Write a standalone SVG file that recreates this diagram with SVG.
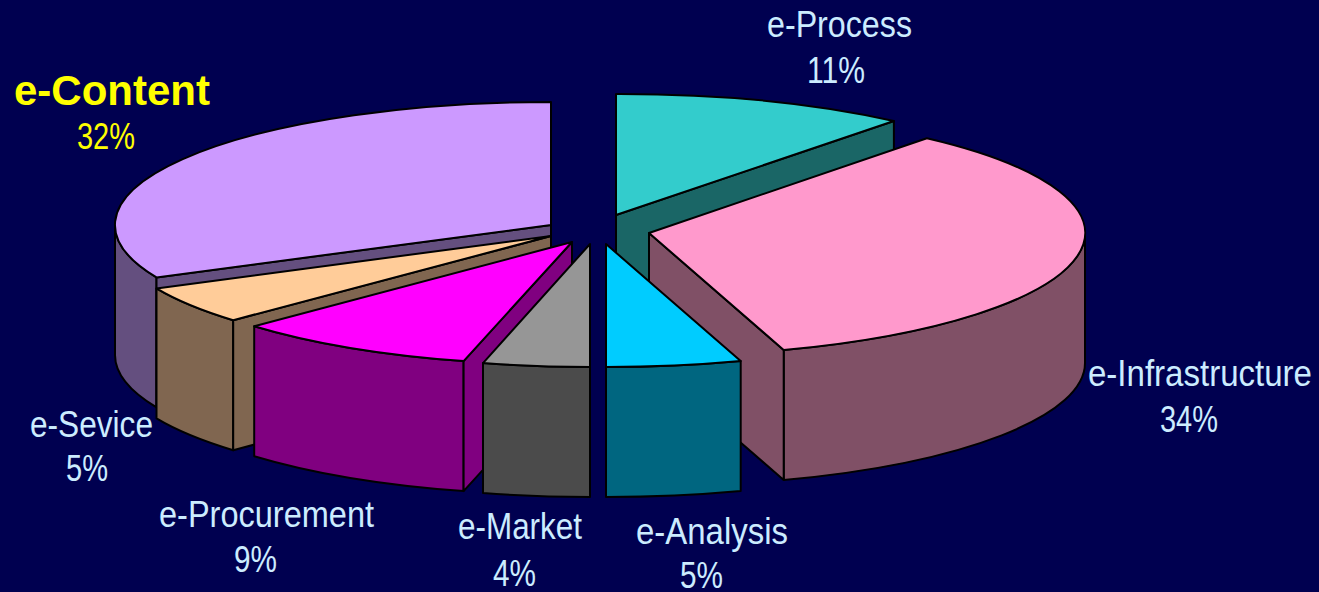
<svg xmlns="http://www.w3.org/2000/svg" width="1319" height="592" viewBox="0 0 1319 592">
<style>
.e{stroke:#000;stroke-width:2;stroke-linejoin:round}
.lbl{font-family:"Liberation Sans Narrow","Liberation Sans",Arial,sans-serif;font-size:36px;fill:#CCECFF}
.hl{font-family:"Liberation Sans",Arial,sans-serif;font-weight:bold;font-size:42px;fill:#FFFF00}
.hp{font-family:"Liberation Sans Narrow","Liberation Sans",Arial,sans-serif;font-size:36px;fill:#FFFF00}
</style>
<rect width="1319" height="592" fill="#000050"/>
<g id="slice-e-Process">
<path class="e" fill="#1A6666" d="M616,215 L893.9,121 L893.9,251 L616,345 Z"/>
<path class="e" fill="#33CCCC" d="M616,215 L616,94 A436,121 0 0,1 893.9,121 Z"/>
</g>
<g id="slice-e-Content">
<path class="e" fill="#644F7F" d="M115,225 A436,123 0 0,0 156.5,277.4 L156.5,407.4 A436,123 0 0,1 115,355 Z"/>
<path class="e" fill="#644F7F" d="M156.5,277.4 L551,225 L551,355 L156.5,407.4 Z"/>
<path class="e" fill="#CC99FF" d="M551,225 L551,102 A436,123 0 0,0 156.5,277.4 Z"/>
</g>
<g id="slice-e-Infrastructure">
<path class="e" fill="#805066" d="M1085,233 A436,123 0 0,1 783.7,350 L783.7,480 A436,123 0 0,0 1085,363 Z"/>
<path class="e" fill="#805066" d="M649,233 L783.7,350 L783.7,480 L649,363 Z"/>
<path class="e" fill="#FF99CC" d="M649,233 L926.9,138.2 A436,123 0 0,1 783.7,350 Z"/>
</g>
<g id="slice-e-Sevice">
<path class="e" fill="#806650" d="M156.5,288.4 A436,123 0 0,0 233.2,320.2 L233.2,450.2 A436,123 0 0,1 156.5,418.4 Z"/>
<path class="e" fill="#806650" d="M233.2,320.2 L551,236 L551,366 L233.2,450.2 Z"/>
<path class="e" fill="#FFCC99" d="M551,236 L156.5,288.4 A436,123 0 0,0 233.2,320.2 Z"/>
</g>
<g id="slice-e-Procurement">
<path class="e" fill="#800080" d="M254.2,326.2 A436,123 0 0,0 463.6,361.1 L463.6,491.1 A436,123 0 0,1 254.2,456.2 Z"/>
<path class="e" fill="#800080" d="M463.6,361.1 L572,242 L572,372 L463.6,491.1 Z"/>
<path class="e" fill="#FF00FF" d="M572,242 L254.2,326.2 A436,123 0 0,0 463.6,361.1 Z"/>
</g>
<g id="slice-e-Market">
<path class="e" fill="#4B4B4B" d="M483,363.1 A436,123 0 0,0 590,367 L590,497 A436,123 0 0,1 483,493.1 Z"/>
<path class="e" fill="#969696" d="M590,244 L483,363.1 A436,123 0 0,0 590,367 Z"/>
</g>
<g id="slice-e-Analysis">
<path class="e" fill="#006680" d="M606,367 A436,123 0 0,0 740.7,361 L740.7,491 A436,123 0 0,1 606,497 Z"/>
<path class="e" fill="#00CCFF" d="M606,244 L606,367 A436,123 0 0,0 740.7,361 Z"/>
</g>
<g id="labels">
<text class="lbl" x="767" y="37" textLength="145" lengthAdjust="spacingAndGlyphs">e-Process</text>
<text class="lbl" x="807" y="83" textLength="58" lengthAdjust="spacingAndGlyphs">11%</text>
<text class="hl" x="14" y="105" textLength="196" lengthAdjust="spacingAndGlyphs">e-Content</text>
<text class="hp" x="77" y="149" textLength="58" lengthAdjust="spacingAndGlyphs">32%</text>
<text class="lbl" x="1088" y="386" textLength="224" lengthAdjust="spacingAndGlyphs">e-Infrastructure</text>
<text class="lbl" x="1160" y="432" textLength="58" lengthAdjust="spacingAndGlyphs">34%</text>
<text class="lbl" x="30" y="437" textLength="123" lengthAdjust="spacingAndGlyphs">e-Sevice</text>
<text class="lbl" x="66" y="481" textLength="42" lengthAdjust="spacingAndGlyphs">5%</text>
<text class="lbl" x="159" y="527" textLength="215" lengthAdjust="spacingAndGlyphs">e-Procurement</text>
<text class="lbl" x="234" y="572" textLength="43" lengthAdjust="spacingAndGlyphs">9%</text>
<text class="lbl" x="458" y="539" textLength="124" lengthAdjust="spacingAndGlyphs">e-Market</text>
<text class="lbl" x="493" y="586" textLength="43" lengthAdjust="spacingAndGlyphs">4%</text>
<text class="lbl" x="636" y="544" textLength="152" lengthAdjust="spacingAndGlyphs">e-Analysis</text>
<text class="lbl" x="680" y="588" textLength="43" lengthAdjust="spacingAndGlyphs">5%</text>
</g>
</svg>
